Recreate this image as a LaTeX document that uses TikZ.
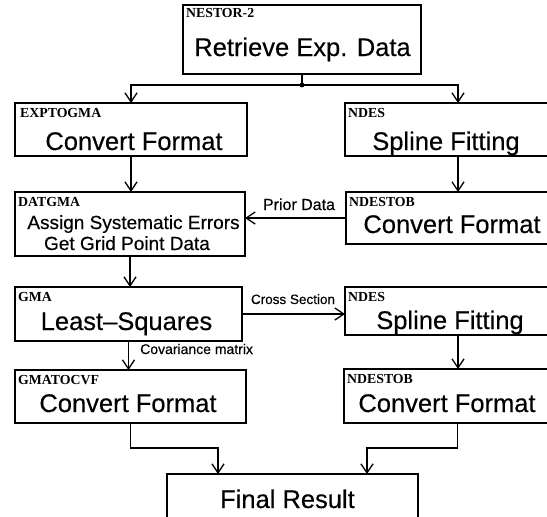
\documentclass[tikz,border=0pt]{standalone}
\usepackage{fontspec}
\setmainfont{Liberation Sans}[FakeBold=0.35]
\newfontfamily\tagfam{Liberation Serif}
\usetikzlibrary{arrows.meta}
\newcommand\bigfnt{\fontsize{25.5}{30}\selectfont}
\newcommand\midfnt{\fontsize{19}{23}\selectfont}
\newcommand\tagfnt{\tagfam\bfseries\fontsize{13.8}{16}\selectfont}
\tikzset{
  box/.style={draw, line width=1.4pt, inner sep=0pt, outer sep=0pt},
  tag/.style={anchor=north west, inner sep=0pt, font=\tagfnt},
  big/.style={anchor=base, inner sep=0pt, font=\bigfnt},
  mid/.style={anchor=base, inner sep=0pt, font=\midfnt},
  lab/.style={anchor=base, inner sep=0pt},
  conn/.style={line width=1.3pt},
  arr/.style={line width=1.3pt, -{Straight Barb[length=9pt,width=12pt,line width=1.3pt]}},
}
\begin{document}
\begin{tikzpicture}[x=1pt,y=-1pt]
\useasboundingbox (0,0) rectangle (547,517);
\clip (0,0) rectangle (547,517);
% boxes
\node[box, minimum width=238pt, minimum height=69pt] (top) at (302,39.5) {};
\node[box, minimum width=232pt, minimum height=53pt] (exp) at (131,129.5) {};
\node[box, minimum width=226pt, minimum height=53pt] (ndes1) at (458,129.5) {};
\node[box, minimum width=230pt, minimum height=64pt] (dat) at (130,224) {};
\node[box, minimum width=225pt, minimum height=52pt] (ndestob1) at (458.5,218) {};
\node[box, minimum width=227pt, minimum height=54pt] (gma) at (128.5,314) {};
\node[box, minimum width=226pt, minimum height=48pt] (ndes2) at (458,311) {};
\node[box, minimum width=231pt, minimum height=53pt] (gmatocvf) at (130.5,396.5) {};
\node[box, minimum width=227pt, minimum height=54pt] (ndestob2) at (457.5,396) {};
\node[box, minimum width=251pt, minimum height=86pt] (final) at (292.5,517) {};
% tags
\node[tag] (tg1) at ([shift={(3,3)}]top.north west) {NESTOR-2};
\node[tag] (tg2) at ([shift={(5,5)}]exp.north west) {EXPTOGMA};
\node[tag] (tg3) at ([shift={(3,5)}]ndes1.north west) {NDES};
\node[tag] (tg4) at ([shift={(3,5)}]dat.north west) {DATGMA};
\node[tag] (tg5) at ([shift={(3,5)}]ndestob1.north west) {NDESTOB};
\node[tag] (tg6) at ([shift={(3,5)}]gma.north west) {GMA};
\node[tag] (tg7) at ([shift={(3,5)}]ndes2.north west) {NDES};
\node[tag] (tg8) at ([shift={(3,5)}]gmatocvf.north west) {GMATOCVF};
\node[tag] (tg9) at ([shift={(3,5)}]ndestob2.north west) {NDESTOB};
% main texts
\node[big] (x1) at (302.5,56) {Retrieve Exp. Data};
\node[big] (x2) at (134,150) {Convert Format};
\node[big] (x3) at (446,150) {Spline Fitting};
\node[mid] (x4) at (133.5,229) {Assign Systematic Errors};
\node[mid] (x5) at (127,250) {Get Grid Point Data};
\node[big] (x6) at (452,233) {Convert Format};
\node[big] (x7) at (126.5,330) {Least–Squares};
\node[big] (x8) at (450,329) {Spline Fitting};
\node[big] (x9) at (128,412) {Convert Format};
\node[big] (x10) at (447,412) {Convert Format};
\node[big] (x11) at (287.5,508) {Final Result};
% connector labels
\node[lab, font=\fontsize{16}{19}\selectfont] (l1) at (299,210) {Prior Data};
\node[lab, font=\fontsize{13.5}{16}\selectfont] (l2) at (293,304) {Cross Section};
\node[lab, anchor=base west, font=\fontsize{14}{17}\selectfont] (l3) at (140,354) {Covariance matrix};
% connectors
\coordinate (j) at (302,85);
\draw[conn] (top.south) -- (j);
\fill (j) circle (2.4pt);
\draw[arr] (j) -| (exp.north);
\draw[arr] (j) -| (ndes1.north);
\draw[arr] (exp.south) -- (exp.south |- dat.north);
\draw[arr] (ndes1.south) -- (ndes1.south |- ndestob1.north);
\draw[arr] (ndestob1.west) -- (ndestob1.west -| dat.east);
\draw[arr] (dat.south) -- (dat.south |- gma.north);
\draw[arr] (gma.east) -- (gma.east -| ndes2.west);
\draw[arr] (gma.south) -- (gma.south |- gmatocvf.north);
\draw[arr] (ndes2.south) -- (ndes2.south |- ndestob2.north);
\coordinate (fl) at ([xshift=-74.5pt]final.north);
\coordinate (fr) at ([xshift=74.5pt]final.north);
\draw[arr] (gmatocvf.south) -- ++(0,25) -| (fl);
\draw[arr] (ndestob2.south) -- ++(0,25) -| (fr);
\end{tikzpicture}
\end{document}
